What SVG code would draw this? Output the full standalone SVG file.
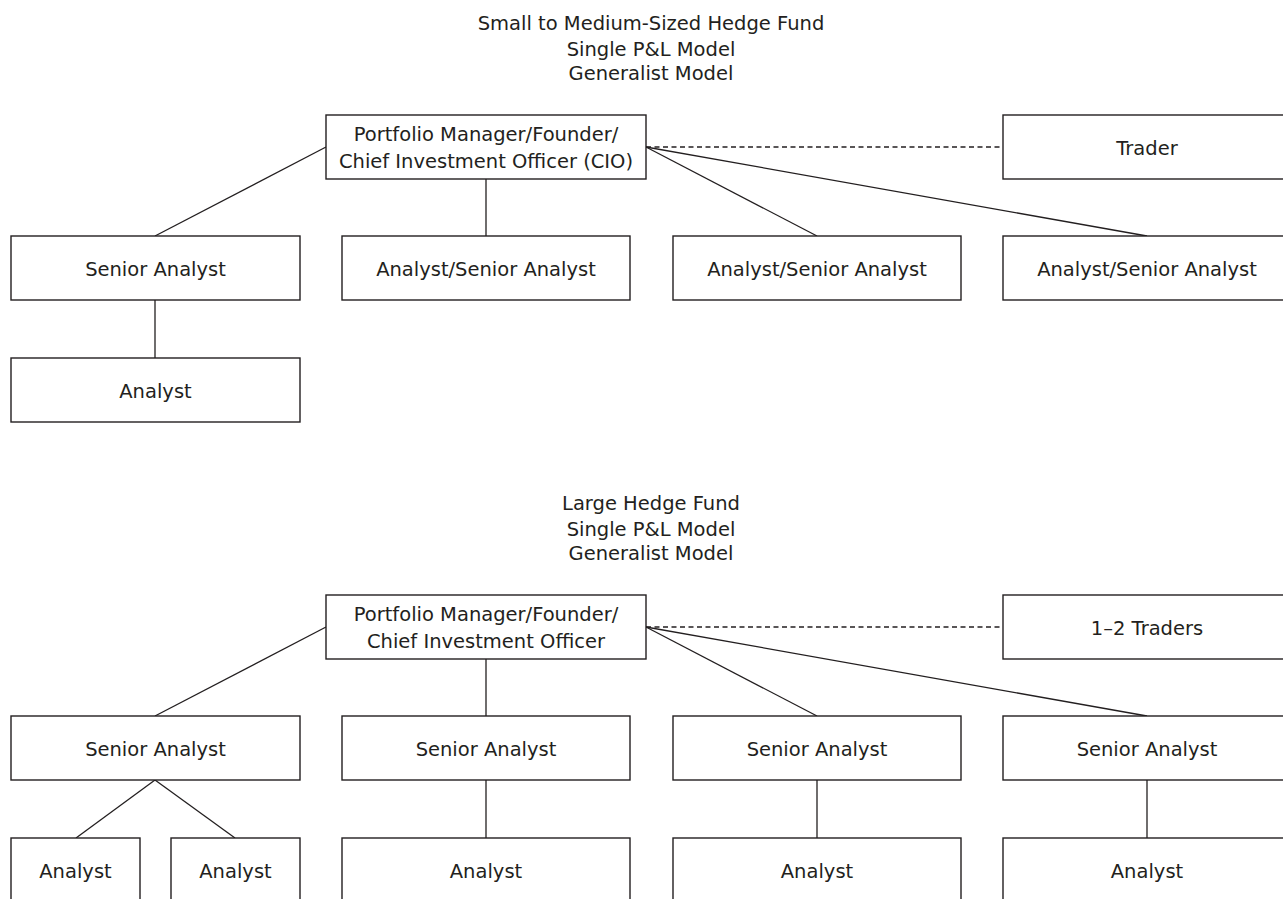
<svg xmlns="http://www.w3.org/2000/svg" width="1283" height="899" viewBox="0 0 1283 899">
<style>
.box{fill:#fff;stroke:#231f20;stroke-width:1.4}
.t{font-family:"DejaVu Sans",sans-serif;font-size:19.5px;fill:#231f20;text-anchor:middle}
.c{stroke:#231f20;stroke-width:1.3;fill:none}
.d{stroke:#231f20;stroke-width:1.3;fill:none;stroke-dasharray:5 3.5}
</style>
<rect width="1283" height="899" fill="#fff"/>
<g id="title-top">
<text class="t" x="651" y="30">Small to Medium-Sized Hedge Fund</text>
<text class="t" x="651" y="56">Single P&amp;L Model</text>
<text class="t" x="651" y="80">Generalist Model</text>
</g>
<g id="title-bottom">
<text class="t" x="651" y="510">Large Hedge Fund</text>
<text class="t" x="651" y="536">Single P&amp;L Model</text>
<text class="t" x="651" y="560">Generalist Model</text>
</g>
<g id="connectors">
<line class="c" x1="326" y1="147" x2="155" y2="236"/>
<line class="c" x1="486" y1="179" x2="486" y2="236"/>
<line class="c" x1="646" y1="147" x2="817" y2="236"/>
<line class="c" x1="646" y1="147" x2="1147" y2="236"/>
<line class="d" x1="646" y1="147" x2="1003" y2="147"/>
<line class="c" x1="155" y1="300" x2="155" y2="358"/>
<line class="c" x1="326" y1="627" x2="155" y2="716"/>
<line class="c" x1="486" y1="659" x2="486" y2="716"/>
<line class="c" x1="646" y1="627" x2="817" y2="716"/>
<line class="c" x1="646" y1="627" x2="1147" y2="716"/>
<line class="d" x1="646" y1="627" x2="1003" y2="627"/>
<line class="c" x1="155" y1="780" x2="76" y2="838"/>
<line class="c" x1="155" y1="780" x2="235" y2="838"/>
<line class="c" x1="486" y1="780" x2="486" y2="838"/>
<line class="c" x1="817" y1="780" x2="817" y2="838"/>
<line class="c" x1="1147" y1="780" x2="1147" y2="838"/>
</g>
<g id="pm-top"><rect class="box" x="326" y="115" width="320" height="64"/><text class="t" x="486" y="140.5">Portfolio Manager/Founder/</text><text class="t" x="486" y="167.5">Chief Investment Officer (CIO)</text></g>
<g id="trader-top"><rect class="box" x="1003" y="115" width="288" height="64"/><text class="t" x="1147" y="154.5">Trader</text></g>
<g id="sa-top-1"><rect class="box" x="11" y="236" width="289" height="64"/><text class="t" x="155.5" y="275.5">Senior Analyst</text></g>
<g id="asa-top-2"><rect class="box" x="342" y="236" width="288" height="64"/><text class="t" x="486" y="275.5">Analyst/Senior Analyst</text></g>
<g id="asa-top-3"><rect class="box" x="673" y="236" width="288" height="64"/><text class="t" x="817" y="275.5">Analyst/Senior Analyst</text></g>
<g id="asa-top-4"><rect class="box" x="1003" y="236" width="288" height="64"/><text class="t" x="1147" y="275.5">Analyst/Senior Analyst</text></g>
<g id="analyst-top"><rect class="box" x="11" y="358" width="289" height="64"/><text class="t" x="155.5" y="397.5">Analyst</text></g>
<g id="pm-bottom"><rect class="box" x="326" y="595" width="320" height="64"/><text class="t" x="486" y="620.5">Portfolio Manager/Founder/</text><text class="t" x="486" y="647.5">Chief Investment Officer</text></g>
<g id="traders-bottom"><rect class="box" x="1003" y="595" width="288" height="64"/><text class="t" x="1147" y="634.5">1–2 Traders</text></g>
<g id="sa-b-1"><rect class="box" x="11" y="716" width="289" height="64"/><text class="t" x="155.5" y="755.5">Senior Analyst</text></g>
<g id="sa-b-2"><rect class="box" x="342" y="716" width="288" height="64"/><text class="t" x="486" y="755.5">Senior Analyst</text></g>
<g id="sa-b-3"><rect class="box" x="673" y="716" width="288" height="64"/><text class="t" x="817" y="755.5">Senior Analyst</text></g>
<g id="sa-b-4"><rect class="box" x="1003" y="716" width="288" height="64"/><text class="t" x="1147" y="755.5">Senior Analyst</text></g>
<g id="an-b-1a"><rect class="box" x="11" y="838" width="129" height="64"/><text class="t" x="75.5" y="877.5">Analyst</text></g>
<g id="an-b-1b"><rect class="box" x="171" y="838" width="129" height="64"/><text class="t" x="235.5" y="877.5">Analyst</text></g>
<g id="an-b-2"><rect class="box" x="342" y="838" width="288" height="64"/><text class="t" x="486" y="877.5">Analyst</text></g>
<g id="an-b-3"><rect class="box" x="673" y="838" width="288" height="64"/><text class="t" x="817" y="877.5">Analyst</text></g>
<g id="an-b-4"><rect class="box" x="1003" y="838" width="288" height="64"/><text class="t" x="1147" y="877.5">Analyst</text></g>
</svg>
